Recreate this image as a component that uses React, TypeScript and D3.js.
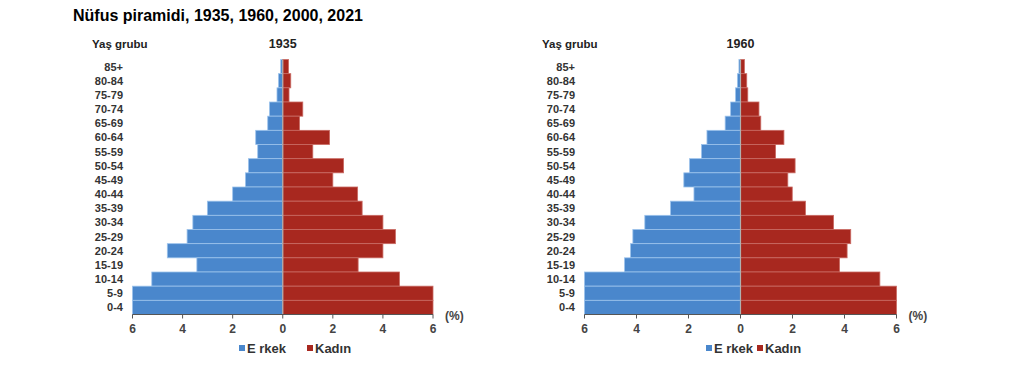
import React from "react";
import * as d3 from "d3";

const ageGroups = ["85+", "80-84", "75-79", "70-74", "65-69", "60-64", "55-59", "50-54", "45-49", "40-44", "35-39", "30-34", "25-29", "20-24", "15-19", "10-14", "5-9", "0-4"];
const male1935 = [0.08, 0.17, 0.23, 0.53, 0.6, 1.08, 1.0, 1.37, 1.49, 2.0, 3.01, 3.59, 3.82, 4.61, 3.43, 5.23, 6.0, 6.0];
const female1935 = [0.23, 0.32, 0.25, 0.8, 0.67, 1.87, 1.2, 2.43, 2.0, 2.99, 3.17, 4.0, 4.5, 4.0, 3.01, 4.66, 6.0, 6.0];
const male1960 = [0.06, 0.12, 0.19, 0.38, 0.59, 1.29, 1.5, 1.96, 2.18, 1.79, 2.69, 3.68, 4.14, 4.23, 4.46, 6.0, 6.0, 6.0];
const female1960 = [0.15, 0.24, 0.28, 0.71, 0.78, 1.67, 1.35, 2.1, 1.82, 1.99, 2.5, 3.58, 4.24, 4.1, 3.81, 5.36, 6.0, 6.0];
const xTicks = [-6, -4, -2, 0, 2, 4, 6];
const legendLabels = ["E rkek", "Kadın"];

const BLUE = "#4a87cc";
const RED = "#a8281f";
const FONT = "'Liberation Sans', Arial, sans-serif";

type PanelProps = {
  year: string;
  male: number[];
  female: number[];
  x0: number;
  x1: number;
  labelRight: number;
  yLabelX: number;
  legendX: [number, number];
};

function Panel({ year, male, female, x0, x1, labelRight, yLabelX, legendX }: PanelProps) {
  const x = d3.scaleLinear().domain([-6, 6]).range([x0, x1]);
  const y = d3.scaleBand().domain(ageGroups).range([59.5, 314.5]).padding(0);
  const axisY = 314.5;
  const bw = y.bandwidth();
  return (
    <g fontFamily={FONT}>
      <text x={yLabelX} y={48} fontSize={11.5} fontWeight="bold" fill="#222">Yaş grubu</text>
      <text x={x(0)} y={48} fontSize={12.5} textAnchor="middle" fill="#222" fontWeight="bold">{year}</text>
      {ageGroups.map((a) => (
        <text key={a} x={labelRight} y={(y(a) as number) + bw / 2 + 4} fontSize={11} fontWeight="bold" fill="#333" textAnchor="end">{a}</text>
      ))}
      {ageGroups.map((a, i) => (
        <rect key={"m" + a} x={x(-male[i])} y={y(a) as number} width={x(0) - x(-male[i])} height={bw} fill={BLUE} stroke="#9cc3ec" strokeWidth={0.8} />
      ))}
      {ageGroups.map((a, i) => (
        <rect key={"f" + a} x={x(0)} y={y(a) as number} width={x(female[i]) - x(0)} height={bw} fill={RED} stroke="#c96a63" strokeWidth={0.8} />
      ))}
      <line x1={x(0)} x2={x(0)} y1={59.5} y2={axisY} stroke="#b0b0b0" strokeWidth={1.2} />
      <line x1={x(-6)} x2={x(6)} y1={axisY} y2={axisY} stroke="#555" strokeWidth={1} />
      {xTicks.map((t) => (
        <g key={t}>
          <line x1={x(t)} x2={x(t)} y1={axisY} y2={axisY + 4} stroke="#555" />
          <text x={x(t)} y={axisY + 18} fontSize={12} fontWeight="bold" fill="#444" textAnchor="middle">{Math.abs(t)}</text>
        </g>
      ))}
      <text x={x(6) + 12} y={axisY + 5} fontSize={12} fontWeight="bold" fill="#444">(%)</text>
      <rect x={legendX[0]} y={345} width={6} height={6} fill={BLUE} />
      <text x={legendX[0] + 8} y={353} fontSize={13} fontWeight="bold" fill="#333">{legendLabels[0]}</text>
      <rect x={legendX[1]} y={345} width={6} height={6} fill={RED} />
      <text x={legendX[1] + 8} y={353} fontSize={13} fontWeight="bold" fill="#333">{legendLabels[1]}</text>
    </g>
  );
}

export default function App() {
  return (
    <svg width={1024} height={366} style={{ position: "absolute", left: 0, top: 0, background: "#fff" }}>
      <text x={73} y={21} fontFamily={FONT} fontSize={16} fontWeight="bold" fill="#000">Nüfus piramidi, 1935, 1960, 2000, 2021</text>
      <Panel year="1935" male={male1935} female={female1935} x0={132.5} x1={433} labelRight={123} yLabelX={92} legendX={[239, 307]} />
      <Panel year="1960" male={male1960} female={female1960} x0={584.5} x1={896.5} labelRight={575} yLabelX={542} legendX={[706, 757]} />
    </svg>
  );
}
